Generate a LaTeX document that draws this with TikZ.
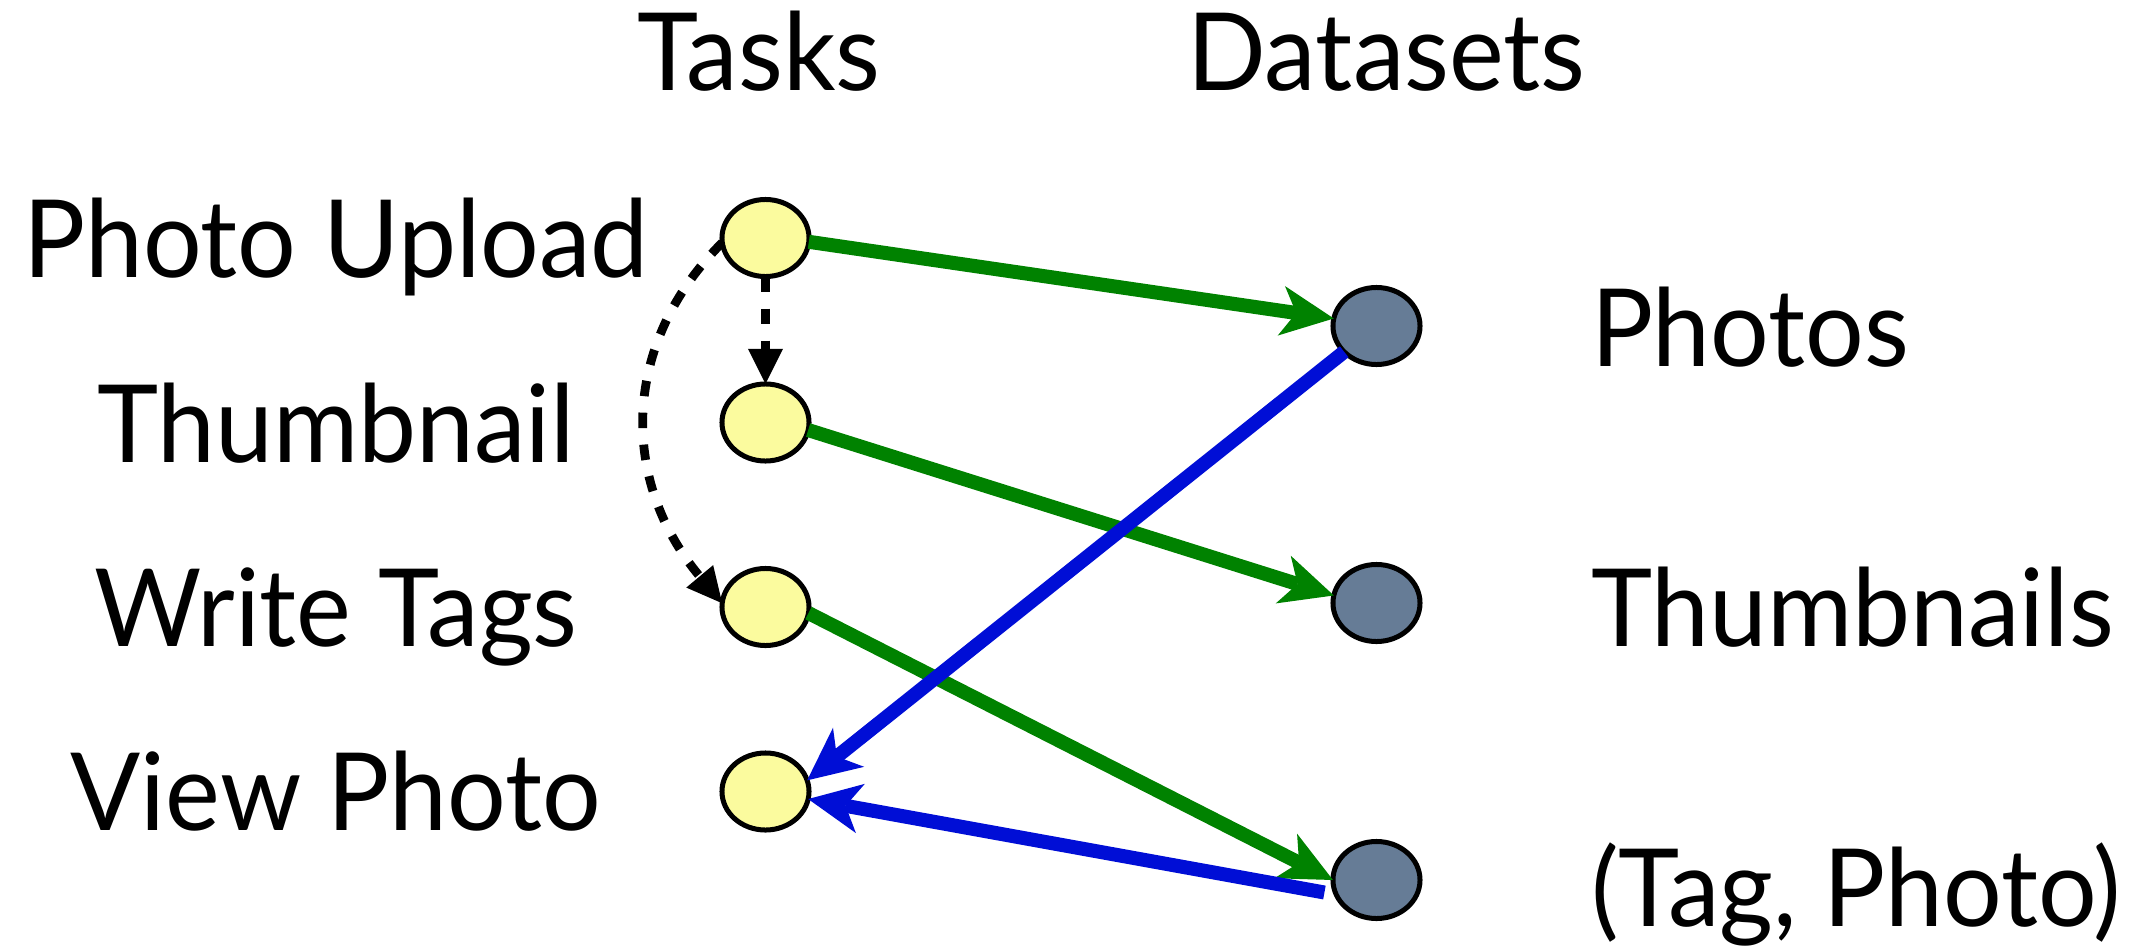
\documentclass[tikz,border=0pt]{standalone}
\usepackage{fontspec}
\setmainfont[FakeStretch=0.96]{Lato}
\usetikzlibrary{arrows.meta,shapes.geometric}

\definecolor{taskfill}{RGB}{251,251,158}
\definecolor{datafill}{RGB}{102,124,150}
\definecolor{writegreen}{RGB}{0,130,0}
\definecolor{readblue}{RGB}{0,14,214}

\begin{document}
\begin{tikzpicture}[x=0.01cm, y=-0.01cm,
  every node/.style={inner sep=0pt, outer sep=0pt},
  labeltext/.style={font=\fontsize{30.7pt}{37pt}\selectfont},
  task/.style={ellipse, draw=black, line width=0.05cm, fill=taskfill,
    minimum width=0.87cm, minimum height=0.77cm},
  dataset/.style={task, fill=datafill},
  flowtip/.style={-{Stealth[length=0.53cm, width=0.50cm, inset=0.15cm, line width=0pt]}},
  write/.style={draw=writegreen, line width=0.14cm, flowtip},
  read/.style={draw=readblue, line width=0.14cm, flowtip},
  order/.style={draw=black, line width=0.088cm, dash pattern=on 0.155cm off 0.165cm,
    -{Triangle[length=0.35cm, width=0.35cm, line width=0pt]}}
]
\useasboundingbox (0,0) rectangle (2138,951);

% column headings
\node[labeltext, anchor=base] (tasks) at (759,90) {Tasks};
\node[labeltext, anchor=base] (datasets) at (1386.5,90) {Datasets};

% task nodes and their names
\node[task] (y1) at (765.5,238) {};
\node[task] (y2) at (765.5,422.5) {};
\node[task] (y3) at (765.5,607) {};
\node[task] (y4) at (765.5,791.5) {};

\node[labeltext, anchor=base] (t1) at (336,277.6) {Photo Upload};
\node[labeltext, anchor=base] (t2) at (336,462) {Thumbnail};
\node[labeltext, anchor=base] (t3) at (336,646) {Write Tags};
\node[labeltext, anchor=base] (t4) at (336,830.5) {View Photo};

% dataset nodes and their names
\node[dataset] (g1) at (1376.5,326) {};
\node[dataset] (g2) at (1376.5,603) {};
\node[dataset] (g3) at (1376.5,880) {};

\node[labeltext, anchor=base west] (d1) at (1591,366) {Photos};
\node[labeltext, anchor=base west] (d2) at (1591,646) {Thumbnails};
\node[labeltext, anchor=base west] (d3) at (1591,926) {(Tag, Photo)};

% task ordering
\draw[order] (y1.south) -- (y2.north);
\draw[order] (y1.186) .. controls +(-102,102) and +(-102,-122) .. (y3.175);

% writes
\draw[write] (y1.-5) -- (g1.170);
\draw[write] (y2.-10) -- (g2.170);
\draw[write] (y3.-8) -- (g3.west);

% reads
\draw[read] (g1) -- (y4.15);
\draw[read, shorten <=0.12cm] (g3.200) -- (y4.-10);
\end{tikzpicture}
\end{document}
